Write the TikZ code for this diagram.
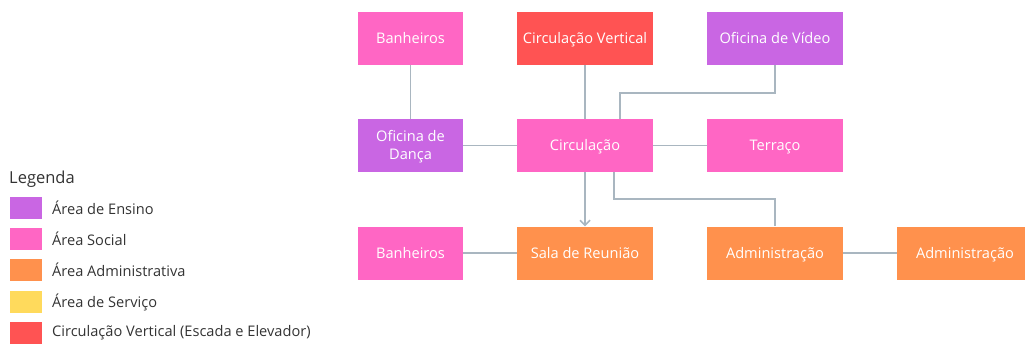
\documentclass[tikz,border=0pt]{standalone}
\usepackage{fontspec}
\setmainfont{Open Sans}
\usetikzlibrary{arrows.meta}
\definecolor{cpink}{HTML}{FF66C4}
\definecolor{cpurple}{HTML}{C966E3}
\definecolor{cred}{HTML}{FF5353}
\definecolor{corange}{HTML}{FF914D}
\definecolor{cyellow}{HTML}{FFDA5C}
\definecolor{cline}{HTML}{A9B6C0}
\definecolor{clegtext}{HTML}{333333}
\begin{document}
\begin{tikzpicture}[x=1pt,y=-1pt,
  roombase/.style={draw=none,minimum width=136pt,minimum height=53pt,inner sep=0pt,
    text=white,font=\fontsize{14.6}{18}\selectfont,align=center},
  room/.style={roombase,text height=13pt,text depth=3pt},
  roomn/.style={room,minimum width=105pt},
  conn/.style={draw=cline,line width=1.6pt},
  swatch/.style={minimum width=32pt,minimum height=22pt,inner sep=0pt,anchor=north west},
  legtext/.style={anchor=west,text=clegtext,font=\fontsize{14.6}{17}\selectfont,inner sep=0pt}]
\useasboundingbox (0,0) rectangle (1025,343);
\clip (0,0) rectangle (1025,343);
% rooms
\node[roomn,fill=cpink] (ban1) at (410.5,38.5) {Banheiros};
\node[room,fill=cred] (cv) at (585,38.5) {Circulação Vertical};
\node[room,fill=cpurple] (ov) at (775,38.5) {Oficina de Vídeo};
\node[roombase,minimum width=105pt,fill=cpurple] (od) at (410.5,145.5) {};
\node[text=white,font=\fontsize{14.6}{18}\selectfont,align=center,inner sep=0pt] (odt) at (410.5,147) {Oficina de\\Dança};
\node[room,fill=cpink] (circ) at (585,145.5) {Circulação};
\node[room,fill=cpink] (ter) at (775,145.5) {Terraço};
\node[roomn,fill=cpink] (ban2) at (410.5,253) {Banheiros};
\node[room,fill=corange] (sala) at (585,253) {Sala de Reunião};
\node[room,fill=corange] (adm1) at (775,253) {Administração};
\node[room,fill=corange] (adm2) at (965,253) {Administração};
% connectors
\draw[conn] (ban1) -- (od);
\draw[conn] (cv) -- (circ);
\draw[conn] (ov.south) |- (620,93) -- (circ.north -| 620,0);
\draw[conn] (od) -- (circ);
\draw[conn] (circ) -- (ter);
\draw[conn,-{Straight Barb[length=5pt,width=10pt,line width=1.5pt]}] (circ) -- (sala);
\draw[conn] (circ.south -| 614,0) |- (775,199) -- (adm1.north);
\draw[conn] (ban2) -- (sala);
\draw[conn] (adm1) -- (adm2);
% legend
\node[anchor=west,text=clegtext,font=\fontsize{16.5}{19}\selectfont,inner sep=0pt] (leg) at (9,179) {Legenda};
\node[swatch,fill=cpurple] (s1) at (10,197) {};
\node[swatch,fill=cpink] (s2) at (10,228) {};
\node[swatch,fill=corange] (s3) at (10,259) {};
\node[swatch,fill=cyellow] (s4) at (10,291) {};
\node[swatch,fill=cred] (s5) at (10,322) {};
\node[legtext] (l1) at (52,208) {Área de Ensino};
\node[legtext] (l2) at (52,239) {Área Social};
\node[legtext] (l3) at (52,270) {Área Administrativa};
\node[legtext] (l4) at (52,302) {Área de Serviço};
\node[legtext] (l5) at (52,333) {Circulação Vertical (Escada e Elevador)};
\end{tikzpicture}
\end{document}
